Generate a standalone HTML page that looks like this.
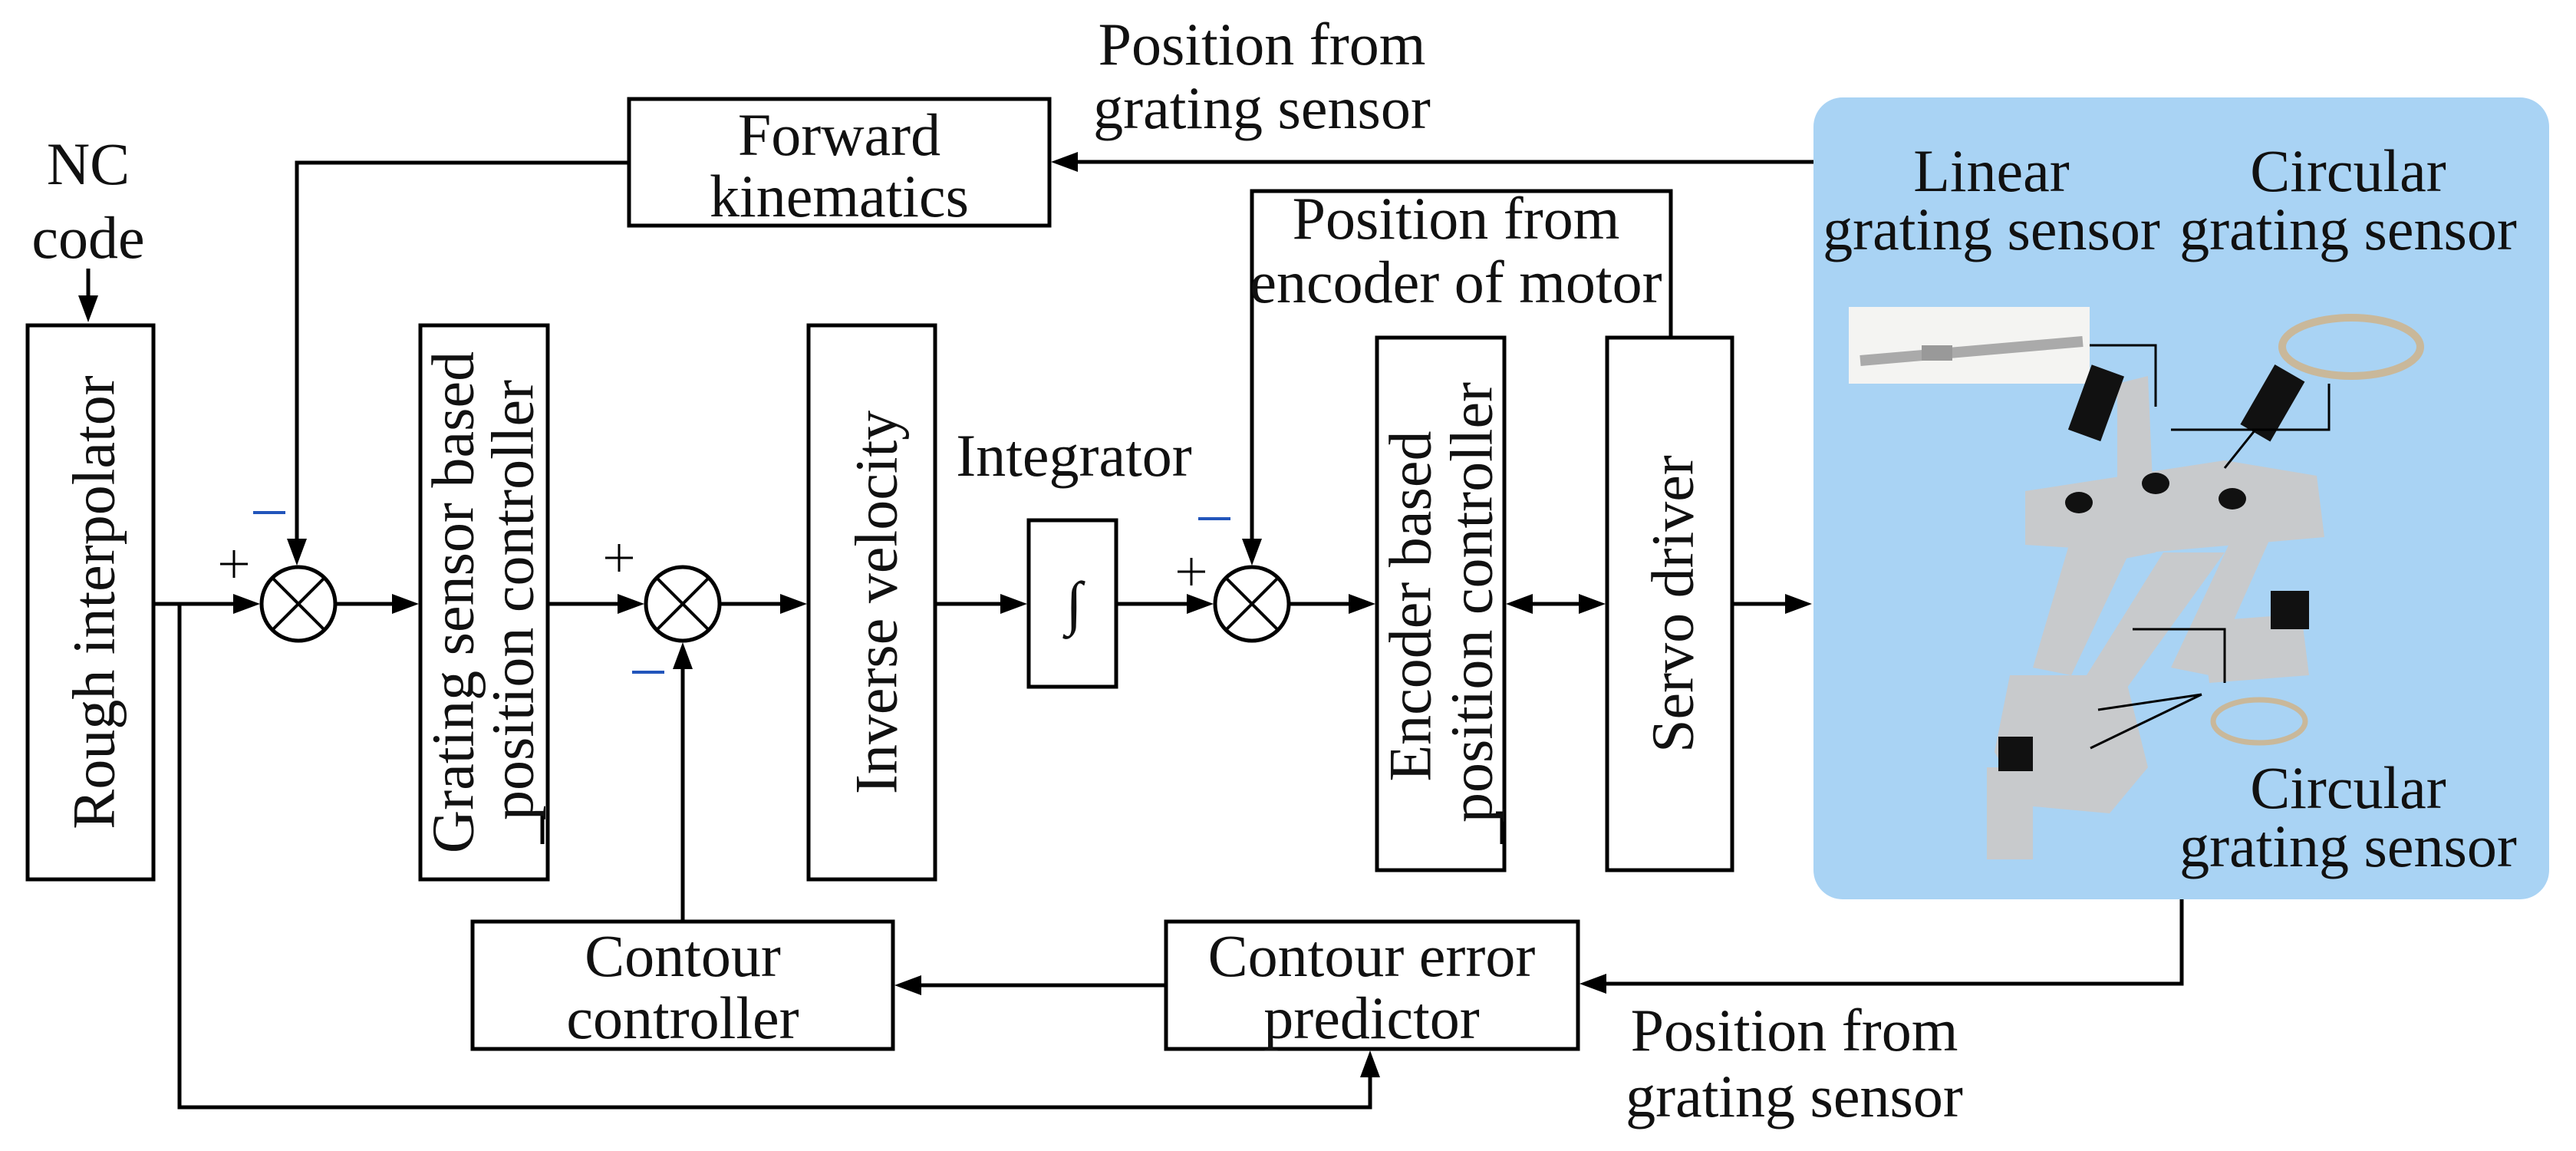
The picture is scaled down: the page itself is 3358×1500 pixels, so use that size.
<!DOCTYPE html>
<html><head><meta charset="utf-8"><style>
html,body{margin:0;padding:0;background:#fff}
svg{display:block}
text{font-family:"Liberation Serif",serif;font-size:78px;fill:#111}
</style></head><body>
<svg width="3358" height="1500" viewBox="0 0 3358 1500" xmlns="http://www.w3.org/2000/svg">
<defs>
<marker id="a" markerWidth="10" markerHeight="8" refX="10" refY="4" orient="auto" markerUnits="userSpaceOnUse" viewBox="0 0 10 8">
</marker>
</defs>
<!-- blue panel -->
<rect x="2364" y="127" width="959" height="1045" rx="38" fill="#a9d3f4"/>

<g stroke="#000" stroke-width="5" fill="none">
<!-- boxes -->
<rect x="36" y="424" width="164" height="722"/>
<rect x="820" y="129" width="548" height="165"/>
<rect x="548" y="424" width="166" height="722"/>
<rect x="1054" y="424" width="165" height="722"/>
<rect x="1341" y="678" width="114" height="217"/>
<rect x="1795" y="440" width="166" height="694"/>
<rect x="2095" y="440" width="163" height="694"/>
<rect x="616" y="1201" width="548" height="166"/>
<rect x="1520" y="1201" width="537" height="166"/>
<!-- sums -->
<circle cx="389" cy="787" r="48"/>
<circle cx="890" cy="787" r="48"/>
<circle cx="1632" cy="787" r="48"/>
<path d="M355 753L423 821M423 753L355 821M856 753L924 821M924 753L856 821M1598 753L1666 821M1666 753L1598 821" stroke-width="4"/>
<!-- lines -->
<path d="M115 350V395"/>
<path d="M200 787H310"/>
<path d="M437 787H515"/>
<path d="M714 787H810"/>
<path d="M938 787H1020"/>
<path d="M1219 787H1305"/>
<path d="M1455 787H1552"/>
<path d="M1680 787H1760"/>
<path d="M1996 787H2060"/>
<path d="M2258 787H2330"/>
<path d="M2364 211H1402"/>
<path d="M820 212H387V705"/>
<path d="M2178 440V249H1632V705"/>
<path d="M890 1201V870"/>
<path d="M1520 1284H1198"/>
<path d="M2844 1172V1282H2091"/>
<path d="M234 787V1443H1786V1402"/>
<path d="M697 1060H707V1100"/>
<path d="M1950 1060H1958V1100"/>
</g>
<!-- arrowheads -->
<g fill="#000">
<polygon points="115,420 102,385 128,385"/>
<polygon points="339,787 304,774 304,800"/>
<polygon points="546,787 511,774 511,800"/>
<polygon points="840,787 805,774 805,800"/>
<polygon points="1052,787 1017,774 1017,800"/>
<polygon points="1339,787 1304,774 1304,800"/>
<polygon points="1582,787 1547,774 1547,800"/>
<polygon points="1793,787 1758,774 1758,800"/>
<polygon points="1963,787 1998,774 1998,800"/>
<polygon points="2093,787 2058,774 2058,800"/>
<polygon points="2362,787 2327,774 2327,800"/>
<polygon points="1370,211 1405,198 1405,224"/>
<polygon points="387,737 374,702 400,702"/>
<polygon points="1632,737 1619,702 1645,702"/>
<polygon points="890,837 877,872 903,872"/>
<polygon points="1166,1284 1201,1271 1201,1297"/>
<polygon points="2059,1282 2094,1269 2094,1295"/>
<polygon points="1786,1369 1773,1404 1799,1404"/>
</g>
<!-- signs -->
<g stroke="#000" stroke-width="3">
<path d="M287 735H323M305 717V753"/>
<path d="M789 727H825M807 709V745"/>
<path d="M1535 745H1571M1553 727V763"/>
</g>
<g stroke="#2255bb" stroke-width="4">
<path d="M330 668H372M824 876H866M1562 676H1604"/>
</g>
<!-- texts -->
<text x="115" y="240" text-anchor="middle">NC</text>
<text x="115" y="336" text-anchor="middle">code</text>
<text x="1094" y="202" text-anchor="middle">Forward</text>
<text x="1094" y="282" text-anchor="middle">kinematics</text>
<text x="1400" y="620" text-anchor="middle">Integrator</text>
<text x="1400" y="812" font-size="90" text-anchor="middle" font-style="italic">∫</text>
<text x="890" y="1272" text-anchor="middle">Contour</text>
<text x="890" y="1353" text-anchor="middle">controller</text>
<text x="1788" y="1272" text-anchor="middle">Contour error</text>
<text x="1788" y="1353" text-anchor="middle">predictor</text>
<text x="1645" y="84" text-anchor="middle">Position from</text>
<text x="1645" y="167" text-anchor="middle">grating sensor</text>
<text x="1898" y="311" text-anchor="middle">Position from</text>
<text x="1898" y="394" text-anchor="middle">encoder of motor</text>
<text x="2339" y="1369" text-anchor="middle">Position from</text>
<text x="2339" y="1455" text-anchor="middle">grating sensor</text>
<text x="2596" y="249" text-anchor="middle">Linear</text>
<text x="2596" y="325" text-anchor="middle">grating sensor</text>
<text x="3061" y="249" text-anchor="middle">Circular</text>
<text x="3061" y="325" text-anchor="middle">grating sensor</text>
<text x="3061" y="1053" text-anchor="middle">Circular</text>
<text x="3061" y="1129" text-anchor="middle">grating sensor</text>
<g dominant-baseline="central" text-anchor="middle">
<text transform="translate(122,785) rotate(-90)">Rough interpolator</text>
<text transform="translate(590,785) rotate(-90)">Grating sensor based</text>
<text transform="translate(668,782) rotate(-90)">position controller</text>
<text transform="translate(1142,785) rotate(-90)">Inverse velocity</text>
<text transform="translate(1838,790) rotate(-90)">Encoder based</text>
<text transform="translate(1918,785) rotate(-90)">position controller</text>
<text transform="translate(2180,787) rotate(-90)">Servo driver</text>
</g>
<!-- robot illustration (approx) -->
<rect x="2410" y="400" width="314" height="100" fill="#f4f4f2"/>
<path d="M2425 470L2715 445" stroke="#aaa" stroke-width="14"/>
<rect x="2505" y="450" width="40" height="20" fill="#999"/>
<ellipse cx="3065" cy="452" rx="90" ry="38" fill="none" stroke="#c9b89a" stroke-width="10"/>
<g fill="#c8cacc">
<polygon points="2640,640 2900,600 3020,620 3030,700 2800,720 2640,710"/>
<polygon points="2700,700 2790,690 2700,880 2650,870"/>
<polygon points="2820,720 2900,720 2770,900 2720,880"/>
<polygon points="2910,700 2960,700 2880,880 2830,870"/>
<polygon points="2760,500 2800,490 2810,720 2760,730"/>
<polygon points="2620,880 2770,880 2800,1000 2750,1060 2640,1050 2600,980"/>
<polygon points="2870,810 3000,800 3010,880 2880,890"/>
<rect x="2590" y="1000" width="60" height="120"/>
</g>
<g fill="#111">
<rect x="2710" y="480" width="45" height="90" transform="rotate(20 2732 525)"/>
<rect x="2940" y="480" width="45" height="90" transform="rotate(30 2962 525)"/>
<rect x="2960" y="770" width="50" height="50"/>
<rect x="2605" y="960" width="45" height="45"/>
<ellipse cx="2710" cy="655" rx="18" ry="14"/>
<ellipse cx="2810" cy="630" rx="18" ry="14"/>
<ellipse cx="2910" cy="650" rx="18" ry="14"/>
</g>
<ellipse cx="2945" cy="940" rx="60" ry="28" fill="none" stroke="#c9b89a" stroke-width="7"/>
<g stroke="#000" stroke-width="3" fill="none">
<path d="M2724 450H2810V530M2940 560H3036V500M2830 560H2940L2900 610M2870 820H2900V890M2780 820H2870M2735 925L2870 905M2725 975L2870 905"/>
</g>
</svg>
</body></html>
